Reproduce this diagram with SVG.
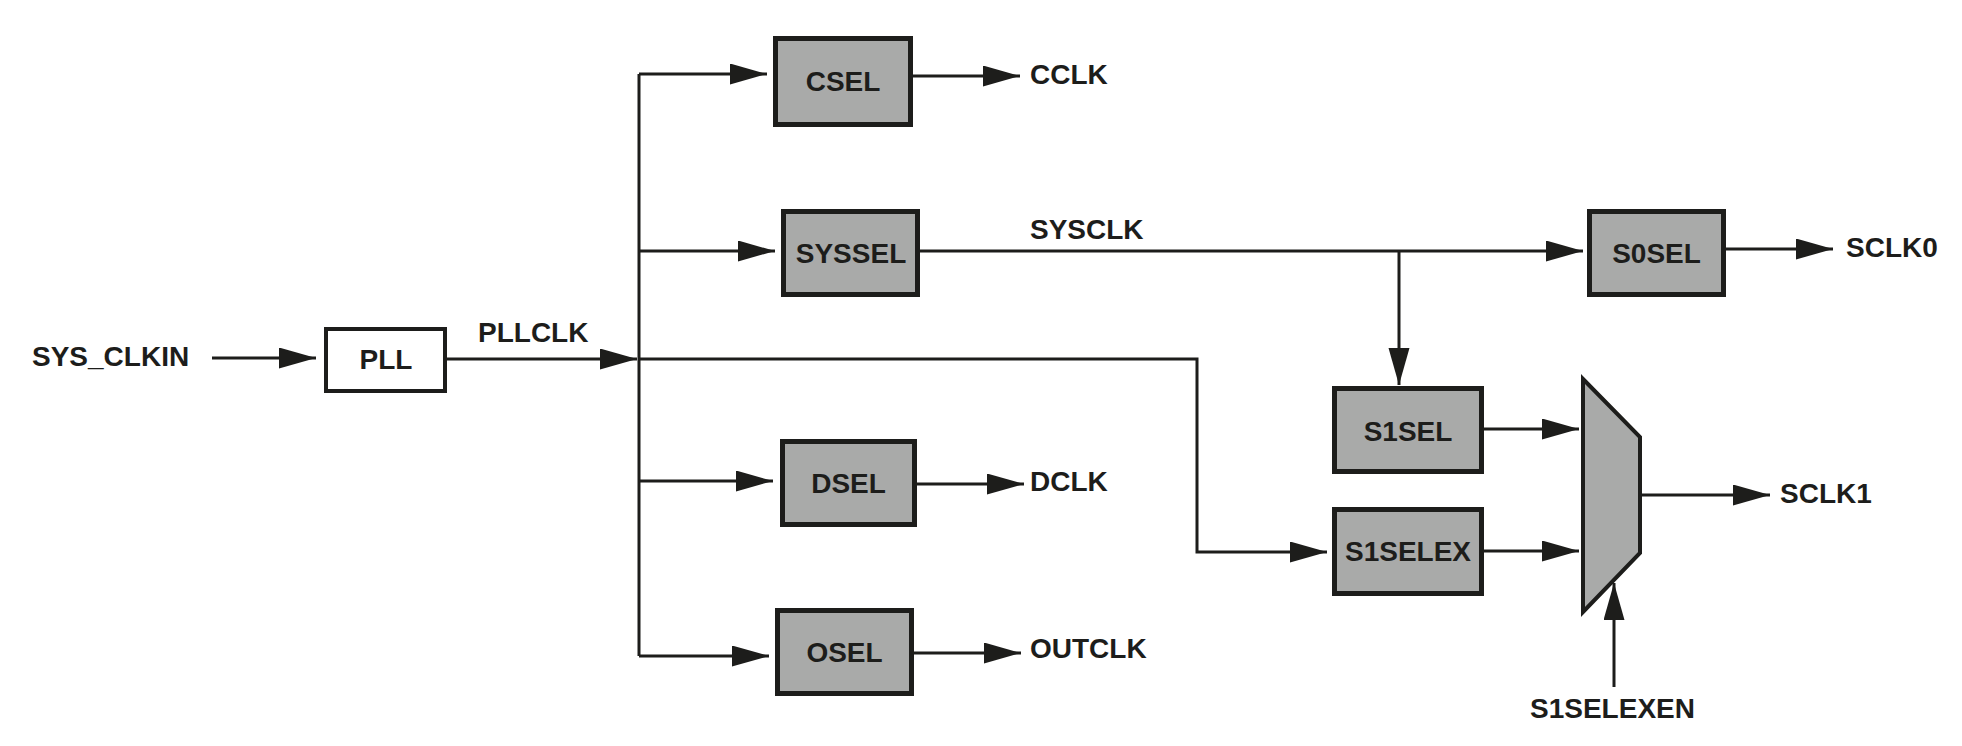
<svg xmlns="http://www.w3.org/2000/svg" width="1962" height="746" viewBox="0 0 1962 746">
<style>
  .bg { fill: #ffffff; }
  .blk rect { fill: #a9aaa9; stroke: #1d1d1b; stroke-width: 5; }
  .pll rect { fill: #ffffff; stroke: #1d1d1b; stroke-width: 4; }
  .mux polygon { fill: #a9aaa9; stroke: #1d1d1b; stroke-width: 4; stroke-linejoin: miter; }
  .wire { fill: none; stroke: #1d1d1b; stroke-width: 3; }
  .arr { marker-end: url(#ah); }
  text { font-family: "Liberation Sans", Arial, sans-serif; font-weight: bold; font-size: 28px; fill: #1d1d1b; }
  .c { text-anchor: middle; }
</style>
<defs>
  <marker id="ah" markerUnits="userSpaceOnUse" markerWidth="38" markerHeight="22" refX="37" refY="10.5" orient="auto">
    <path d="M0,0 L37,10.5 L0,21 Z" fill="#1d1d1b"/>
  </marker>
</defs>
<rect class="bg" x="0" y="0" width="1962" height="746"/>

<g id="connectors">
  <path class="wire arr" d="M212,358 H316"/>
  <path class="wire arr" d="M447,359 H637"/>
  <path class="wire" d="M639,74 V656"/>
  <path class="wire arr" d="M639,74 H767"/>
  <path class="wire arr" d="M639,251 H775"/>
  <path class="wire arr" d="M639,481 H773"/>
  <path class="wire arr" d="M639,656 H769"/>
  <path class="wire arr" d="M913,76 H1020"/>
  <path class="wire arr" d="M920,251 H1583"/>
  <path class="wire arr" d="M1399,251 V385"/>
  <path class="wire arr" d="M1726,249 H1833"/>
  <path class="wire arr" d="M917,484 H1024"/>
  <path class="wire arr" d="M914,653 H1021"/>
  <path class="wire arr" d="M639,359 H1197 V552 H1327"/>
  <path class="wire arr" d="M1484,429 H1579"/>
  <path class="wire arr" d="M1484,551 H1579"/>
  <path class="wire arr" d="M1640,495 H1770"/>
  <path class="wire arr" d="M1614,687 V583"/>
</g>

<g id="pll" class="pll">
  <rect x="326" y="329" width="119" height="62"/>
  <text class="c" x="386" y="369">PLL</text>
</g>
<g id="csel" class="blk">
  <rect x="775.5" y="38.5" width="135" height="86"/>
  <text class="c" x="843" y="91">CSEL</text>
</g>
<g id="syssel" class="blk">
  <rect x="783.5" y="211.5" width="134" height="83"/>
  <text class="c" x="851" y="263">SYSSEL</text>
</g>
<g id="dsel" class="blk">
  <rect x="782.5" y="441.5" width="132" height="83"/>
  <text class="c" x="848.5" y="493">DSEL</text>
</g>
<g id="osel" class="blk">
  <rect x="777.5" y="610.5" width="134" height="83"/>
  <text class="c" x="844.5" y="662">OSEL</text>
</g>
<g id="s0sel" class="blk">
  <rect x="1589.5" y="211.5" width="134" height="83"/>
  <text class="c" x="1656.5" y="263">S0SEL</text>
</g>
<g id="s1sel" class="blk">
  <rect x="1334.5" y="388.5" width="147" height="83"/>
  <text class="c" x="1408" y="441">S1SEL</text>
</g>
<g id="s1selex" class="blk">
  <rect x="1334.5" y="509.5" width="147" height="84"/>
  <text class="c" x="1408" y="561">S1SELEX</text>
</g>
<g id="mux" class="mux">
  <polygon points="1583,379 1640,437 1640,553 1583,612"/>
</g>

<g id="labels">
  <text x="32" y="366">SYS_CLKIN</text>
  <text x="478" y="342">PLLCLK</text>
  <text x="1030" y="84">CCLK</text>
  <text x="1030" y="239">SYSCLK</text>
  <text x="1030" y="491">DCLK</text>
  <text x="1030" y="658">OUTCLK</text>
  <text x="1846" y="257">SCLK0</text>
  <text x="1780" y="503">SCLK1</text>
  <text x="1530" y="718">S1SELEXEN</text>
</g>
</svg>
